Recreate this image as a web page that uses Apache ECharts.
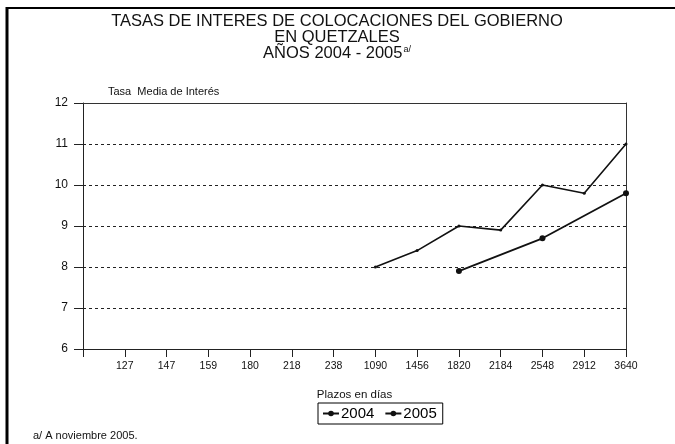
<!DOCTYPE html>
<html>
<head>
<meta charset="utf-8">
<script src="https://cdn.jsdelivr.net/npm/echarts@6/dist/echarts.min.js"></script>
<style>
  html, body { margin: 0; padding: 0; background: #fff; }
  #chart { width: 675px; height: 444px; }
</style>
</head>
<body>
<div id="chart"></div>
<script>
// Plazos (días) shown on the category axis; the first slot is an unlabeled origin
const plazos = ['', '127', '147', '159', '180', '218', '238', '1090', '1456', '1820', '2184', '2548', '2912', '3640'];

// Tasa media de interés por plazo
const tasas2004 = [['1090', 8.0], ['1456', 8.4], ['1820', 9.0], ['2184', 8.9], ['2548', 10.0], ['2912', 9.8], ['3640', 11.0]];
const tasas2005 = [['1820', 7.9], ['2548', 8.7], ['3640', 9.8]];

const yTicks = { min: 6, max: 12, interval: 1 };

const FONT = '"Liberation Sans", Arial, sans-serif';
const INK = '#111';

const chart = echarts.init(document.getElementById('chart'), null, { renderer: 'canvas' });

chart.setOption({
  backgroundColor: '#fff',
  animation: false,
  textStyle: { fontFamily: FONT, color: INK },
  title: {
    left: 332,
    top: 8,
    textAlign: 'center',
    text: 'TASAS DE INTERES DE COLOCACIONES DEL GOBIERNO\nEN QUETZALES\nAÑOS 2004 - 2005{sup|a/}',
    textStyle: {
      fontFamily: FONT,
      fontSize: 16.5,
      fontWeight: 'normal',
      color: INK,
      lineHeight: 16,
      rich: {
        sup: { fontSize: 9, verticalAlign: 'top', padding: [0, 0, 8, 1], fontFamily: FONT, color: INK, lineHeight: 16 }
      }
    }
  },
  legend: {
    left: 318,
    top: 403,
    padding: [3, 6, 3, 4],
    itemGap: 10,
    itemWidth: 16,
    itemHeight: 7,
    borderColor: '#000',
    borderWidth: 1,
    textStyle: { fontFamily: FONT, fontSize: 15, fontWeight: 'normal', color: '#000', padding: [0, 0, 0, -3] },
    data: ['2004', '2005']
  },
  grid: { left: 83, right: 49, top: 103, bottom: 95 },
  xAxis: [
    {
      type: 'category',
      data: plazos,
      boundaryGap: false,
      name: 'Plazos en días',
      nameLocation: 'middle',
      nameGap: 40,
      nameTextStyle: { fontFamily: FONT, fontSize: 11.5, color: INK },
      axisLine: { lineStyle: { color: '#222', width: 1 } },
      axisTick: { alignWithLabel: true, length: 8, lineStyle: { color: '#222' } },
      axisLabel: { fontFamily: FONT, fontSize: 10.5, color: INK, margin: 12, interval: 0 },
      splitLine: { show: false }
    },
    {
      type: 'category',
      data: plazos,
      boundaryGap: false,
      position: 'top',
      axisLine: { lineStyle: { color: '#333', width: 1 } },
      axisTick: { show: false },
      axisLabel: { show: false },
      splitLine: { show: false }
    }
  ],
  yAxis: [
    {
      type: 'value',
      min: yTicks.min,
      max: yTicks.max,
      interval: yTicks.interval,
      name: 'Tasa  Media de Interés',
      nameLocation: 'end',
      nameGap: 6,
      nameTextStyle: { fontFamily: FONT, fontSize: 11, color: INK, align: 'left', padding: [0, 0, 0, 25] },
      axisLine: { show: true, lineStyle: { color: '#222', width: 1 } },
      axisTick: { show: true, length: 9, lineStyle: { color: '#222' } },
      axisLabel: { fontFamily: FONT, fontSize: 12, color: INK, margin: 15 },
      splitLine: { show: true, lineStyle: { color: '#222', type: [3, 3], width: 1 } }
    },
    {
      type: 'value',
      min: yTicks.min,
      max: yTicks.max,
      interval: yTicks.interval,
      position: 'right',
      axisLine: { show: true, lineStyle: { color: '#333', width: 1 } },
      axisTick: { show: false },
      axisLabel: { show: false },
      splitLine: { show: false }
    }
  ],
  series: [
    {
      name: '2004',
      type: 'line',
      data: tasas2004,
      symbol: 'circle',
      symbolSize: 3,
      lineStyle: { color: INK, width: 1.6 },
      itemStyle: { color: INK }
    },
    {
      name: '2005',
      type: 'line',
      data: tasas2005,
      symbol: 'circle',
      symbolSize: 6,
      lineStyle: { color: INK, width: 1.8 },
      itemStyle: { color: INK }
    }
  ],
  graphic: [
    // page frame: top rule and heavy left rule
    { type: 'line', shape: { x1: 6, y1: 8, x2: 675, y2: 8 }, style: { stroke: '#000', lineWidth: 2 } },
    { type: 'line', shape: { x1: 7, y1: 7, x2: 7, y2: 444 }, style: { stroke: '#000', lineWidth: 3 } },
    {
      type: 'text',
      left: 33,
      top: 430,
      style: { text: 'a/ A noviembre 2005.', fontFamily: FONT, fontSize: 11, fill: INK }
    }
  ]
});
</script>
</body>
</html>
